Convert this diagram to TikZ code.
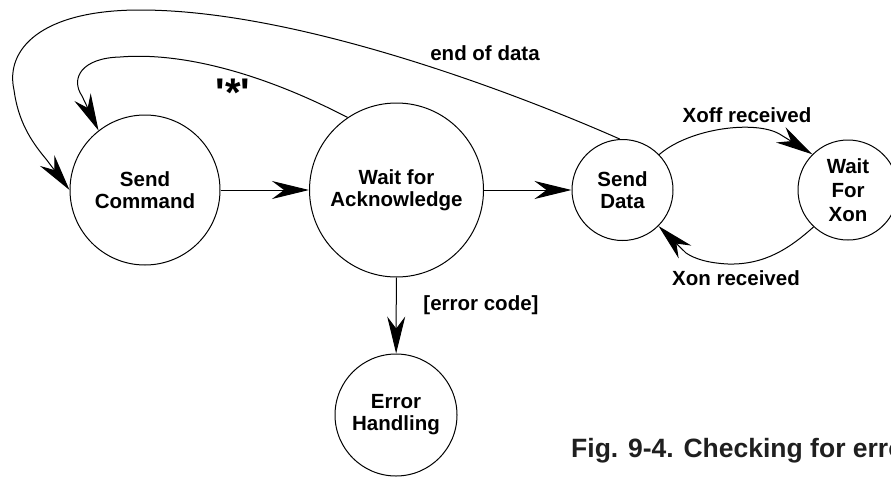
\documentclass[tikz,border=0pt]{standalone}
\usepackage{fontspec}
\newfontfamily\lsans{Liberation Sans}
\usetikzlibrary{arrows.meta}
\begin{document}
\begin{tikzpicture}[x=1pt,y=-1pt,
  txt/.style={font=\lsans\bfseries\fontsize{20.5}{22}\selectfont},
  state/.style={circle,draw,line width=1pt,inner sep=0pt,align=center,txt},
  lbl/.style={txt,inner sep=0pt},
  conn/.style={line width=1pt,-{Stealth[length=37pt,width=18pt,inset=12pt]}}]
\useasboundingbox (0,0) rectangle (891,477);
\clip (0,0) rectangle (891,477);
% states
\node[state,minimum size=150pt] (cmd) at (145,190) {Send\\Command};
\node[state,minimum size=174pt] (ack) at (396.5,190) {Wait for\\Acknowledge};
\node[state,minimum size=101pt] (sd) at (622.5,190) {Send\\Data};
\node[state,minimum size=100pt,font=\lsans\bfseries\fontsize{20.5}{24}\selectfont] (xon) at (848,190) {Wait\\For\\Xon};
\node[state,minimum size=122pt] (err) at (396,415) {Error\\Handling};
% straight transitions
\draw[conn] (cmd) -- (ack);
\draw[conn] (ack) -- (sd);
\draw[conn] (ack) -- (err);
% '*' loop back to Send Command
\draw[conn] (ack.124) .. controls (260,72) and (180,52) .. (120,57)
  .. controls (82,58) and (70,78) .. (82,96) -- (cmd.128);
% end of data loop
\draw[conn] (sd.93) .. controls (520,95) and (300,10) .. (140,10)
  .. controls (40,10) and (5,50) .. (14,90)
  .. controls (18,120) and (30,140) .. (46,159) -- (cmd.180);
% Xoff / Xon
\draw[conn] (sd.44) .. controls (690,128) and (755,120) .. (779.5,134) -- (xon.135);
\draw[conn] (xon.227) .. controls (790,248) and (765,265) .. (728,264)
  .. controls (708,263) and (695,259) .. (686,253) -- (sd.-45);
% labels
\node[lbl] (lend) at (485,53) {end of data};
\node[lbl,anchor=base,font=\lsans\bfseries\fontsize{40}{40}\selectfont] (lstar) at (233,106) {'*'};
\node[lbl] (lxoff) at (747,115) {Xoff received};
\node[lbl] (lxon) at (736,278) {Xon received};
\node[lbl] (lerr) at (481,305) {[error code]};
\node[anchor=base west,inner sep=0pt,text=black!88,font=\lsans\bfseries\fontsize{26.5}{30}\selectfont] (cap) at (571,457) {Fig. 9-4. Checking for erro};
\end{tikzpicture}
\end{document}
